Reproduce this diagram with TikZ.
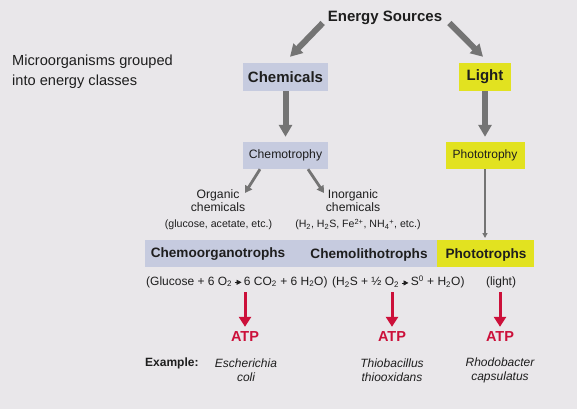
\documentclass[tikz,border=0pt]{standalone}
\usepackage{fontspec}
\setmainfont{Liberation Sans}
\usetikzlibrary{arrows.meta,calc}
\definecolor{bgc}{RGB}{233,231,234}
\definecolor{lav}{RGB}{198,203,223}
\definecolor{yel}{RGB}{226,226,32}
\definecolor{gar}{RGB}{116,116,116}
\definecolor{atpred}{RGB}{204,16,58}
\definecolor{txt}{RGB}{30,30,30}
\newcommand{\eqarrow}{\tikz[baseline=-2.8pt]\draw[txt,line width=0.8pt,-{Triangle[length=5pt,width=5pt]}] (0,0) -- (7pt,0);}
\begin{document}
\begin{tikzpicture}[x=1pt,y=-1pt,
  txtnode/.style={inner sep=0pt, text=txt},
  boxnode/.style={inner sep=0pt, text=txt, minimum height=27pt},
  garrow/.style={draw=gar, line width=6pt, -{Triangle[width=13pt,length=12pt]}},
  darrow/.style={draw=gar, line width=2.8pt, -{Triangle[width=8pt,length=7pt]}},
  tarrow/.style={draw=gar, line width=1.6pt, -{Triangle[width=5pt,length=5pt]}},
  rarrow/.style={draw=atpred, line width=3pt, -{Triangle[width=12pt,length=10pt]}},
  atpnode/.style={inner sep=0pt, text=atpred, font=\fontsize{14.5}{16}\selectfont\bfseries},
  species/.style={inner sep=0pt, text=txt, align=center, font=\fontsize{12}{14}\selectfont\itshape}
]
\fill[bgc] (0,0) rectangle (577,409);
\useasboundingbox (0,0) rectangle (577,409);

% left caption
\node[txtnode, anchor=west, align=left, font=\fontsize{14.6}{20}\selectfont] (cap) at (12,72) {Microorganisms grouped\\into energy classes};

% top
\node[txtnode, font=\fontsize{15}{17}\selectfont\bfseries] (es) at (385,18) {Energy Sources};
\node[boxnode, fill=lav, minimum width=85pt, minimum height=28pt, font=\fontsize{15}{17}\selectfont\bfseries] (chem) at (285.5,77) {Chemicals};
\node[boxnode, fill=yel, minimum width=52pt, minimum height=28pt, font=\fontsize{15}{17}\selectfont\bfseries] (light) at (485,77) {Light};
\node[boxnode, fill=lav, minimum width=85pt, font=\fontsize{12.2}{14}\selectfont] (chemo) at (285.5,155.5) {Chemotrophy};
\node[boxnode, fill=yel, minimum width=79pt, font=\fontsize{12}{14}\selectfont] (photo) at (485,155.5) {Phototrophy};

\draw[garrow] ([xshift=-5pt,yshift=-5pt]es.west) -- ([xshift=4.5pt,yshift=6pt]chem.north);
\draw[garrow] ([xshift=7pt,yshift=-5pt]es.east) -- ([xshift=-2pt,yshift=6pt]light.north);
\draw[garrow, shorten >=5pt] (chem.south) -- (chemo.north);
\draw[garrow, shorten >=5pt] (light.south) -- (photo.north);

% chemicals
\node[txtnode, align=center, font=\fontsize{12.2}{13.5}\selectfont] (org) at (218,200.5) {Organic\\chemicals};
\node[txtnode, align=center, font=\fontsize{12.2}{13.5}\selectfont] (inorg) at (353,200.5) {Inorganic\\chemicals};
\node[txtnode, font=\fontsize{10.6}{12}\selectfont] (orgex) at (218.5,225) {(glucose, acetate, etc.)};
\node[txtnode, font=\fontsize{10.6}{12}\selectfont] (inorgex) at (358,224.5) {(H\textsubscript{2}, H\textsubscript{2}S, Fe\textsuperscript{2+}, NH\textsubscript{4}\textsuperscript{+}, etc.)};
\coordinate (orgtip) at (245,193);
\coordinate (inorgtip) at (324,193);
\draw[darrow] ([xshift=-25.5pt]chemo.south) -- (orgtip);
\draw[darrow] ([xshift=22.5pt]chemo.south) -- (inorgtip);

% bar
\fill[lav] (145,240) rectangle (437,267);
\fill[yel] (437,240) rectangle (534,267);
\node[txtnode, font=\fontsize{13.6}{15}\selectfont\bfseries] (coT) at (218,254.5) {Chemoorganotrophs};
\node[txtnode, font=\fontsize{13.6}{15}\selectfont\bfseries] (clT) at (369,254.5) {Chemolithotrophs};
\node[txtnode, font=\fontsize{13.6}{15}\selectfont\bfseries] (phT) at (486,254.5) {Phototrophs};
\coordinate (bartop) at (485,240);
\draw[tarrow, shorten >=2pt] (photo.south) -- (bartop);

% equations
\node[txtnode, anchor=west, font=\fontsize{12}{14}\selectfont] (eq1) at (146,282) {(Glucose + 6 O\textsubscript{2}\,\eqarrow\,6 CO\textsubscript{2} + 6 H\textsubscript{2}O)};
\node[txtnode, anchor=west, font=\fontsize{12}{14}\selectfont] (eq2) at (332,282) {(H\textsubscript{2}S + ½ O\textsubscript{2}\,\eqarrow\,S\textsuperscript{0} + H\textsubscript{2}O)};
\node[txtnode, font=\fontsize{12}{14}\selectfont] (eq3) at (501,282) {(light)};

% ATP
\node[atpnode] (atp1) at (245,337) {ATP};
\node[atpnode] (atp2) at (392,337) {ATP};
\node[atpnode] (atp3) at (500,337) {ATP};
\coordinate (r1) at (245,292);
\coordinate (r2) at (392,292);
\coordinate (r3) at (500,292);
\draw[rarrow, shorten >=5pt] (r1) -- (atp1.north);
\draw[rarrow, shorten >=5pt] (r2) -- (atp2.north);
\draw[rarrow, shorten >=5pt] (r3) -- (atp3.north);

% examples
\node[txtnode, anchor=west, font=\fontsize{12}{14}\selectfont\bfseries] (ex) at (145,363) {Example:};
\node[species] (sp1) at (246,370) {Escherichia\\coli};
\node[species] (sp2) at (392,370) {Thiobacillus\\thiooxidans};
\node[species] (sp3) at (500,370) {Rhodobacter\\capsulatus};
\end{tikzpicture}
\end{document}
